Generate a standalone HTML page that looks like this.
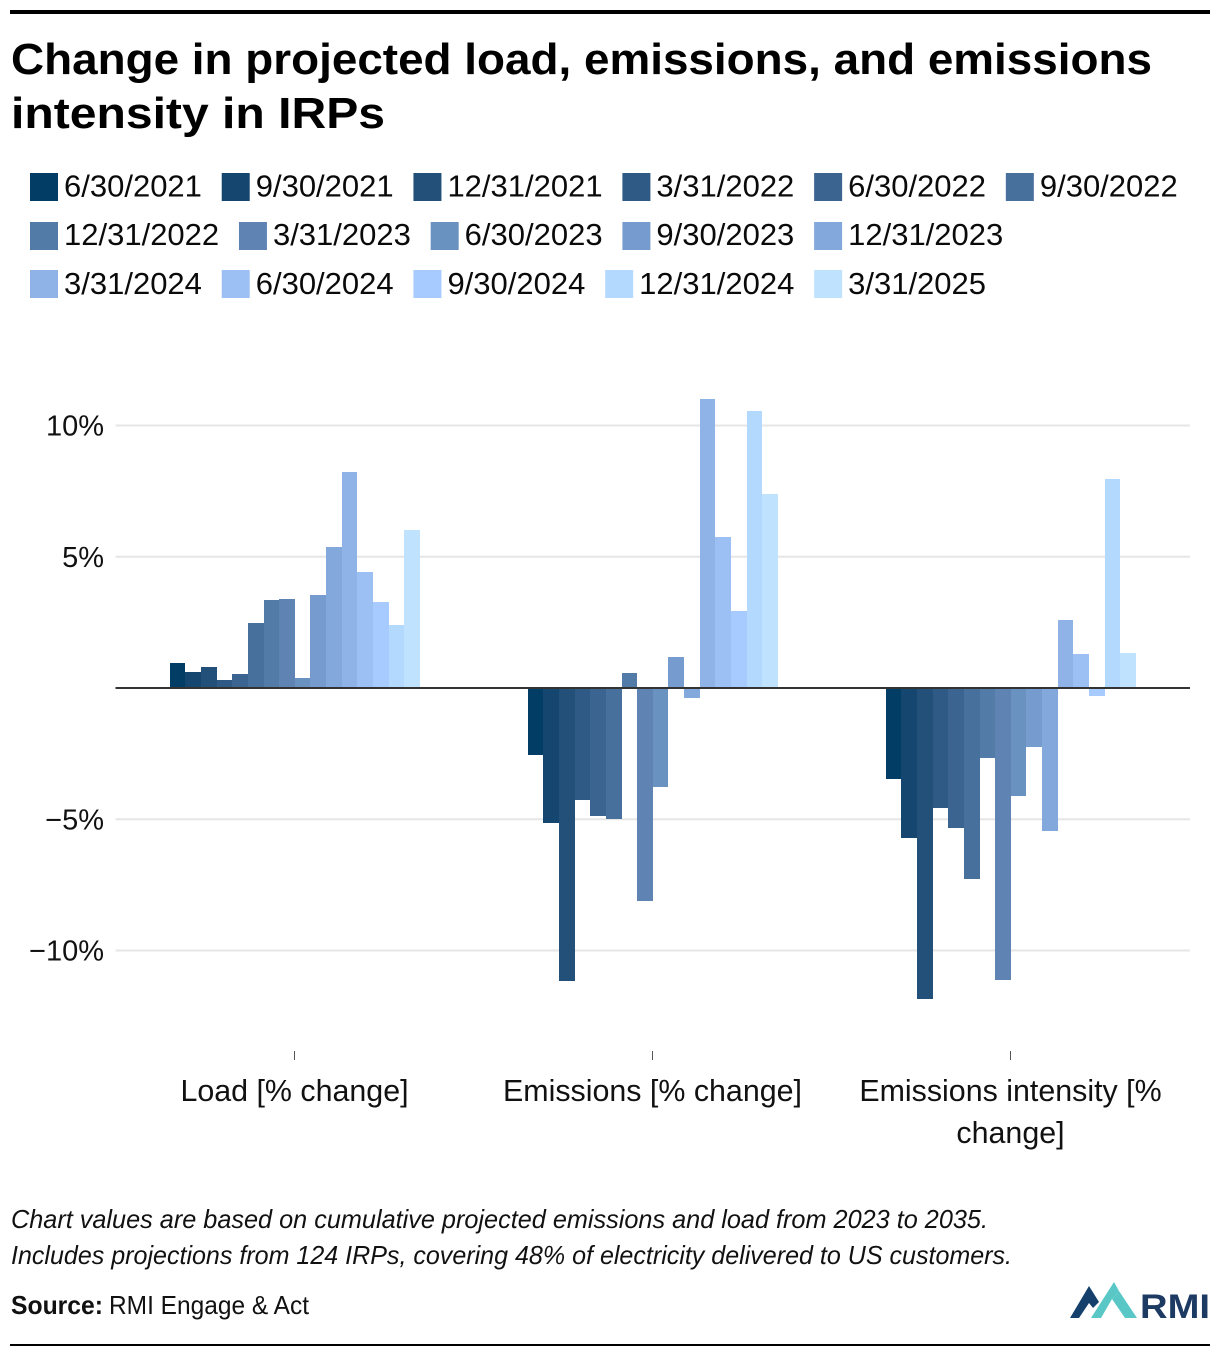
<!DOCTYPE html>
<html lang="en">
<head>
<meta charset="utf-8">
<title>Change in projected load, emissions, and emissions intensity in IRPs</title>
<style>
  html, body { margin: 0; padding: 0; background: #fff; }
  body { width: 1220px; height: 1358px; overflow: hidden; }
  svg { display: block; font-family: "Liberation Sans", sans-serif; }
  text { fill: #000; }
  .title { font-size: 44px; font-weight: 700; }
  .legend-text { font-size: 31px; fill: #0a0a0a; }
  .y-label { font-size: 29px; fill: #111; text-anchor: end; }
  .x-label { font-size: 30.4px; fill: #111; text-anchor: middle; }
  .note { font-size: 26px; font-style: italic; fill: #111; }
  .source { font-size: 26px; fill: #111; }
  .s0 { fill: #023d66; } .s1 { fill: #15466f; } .s2 { fill: #225079; } .s3 { fill: #2e5a85; }
  .s4 { fill: #3b6491; } .s5 { fill: #47709d; } .s6 { fill: #527ba7; } .s7 { fill: #5f84b3; }
  .s8 { fill: #6992c0; } .s9 { fill: #769bce; } .s10 { fill: #83a8dc; } .s11 { fill: #8fb3e7; }
  .s12 { fill: #9cc0f3; } .s13 { fill: #a8cbff; } .s14 { fill: #b3d9ff; } .s15 { fill: #bfe3ff; }
</style>
</head>
<body>
<svg id="chart" xmlns="http://www.w3.org/2000/svg" width="1220" height="1358" viewBox="0 0 1220 1358">
  <rect x="10" y="10" width="1200" height="4" fill="#000"/>
  <text class="title" x="11" y="74" textLength="1141" lengthAdjust="spacingAndGlyphs">Change in projected load, emissions, and emissions</text>
  <text class="title" x="11" y="128" textLength="374" lengthAdjust="spacingAndGlyphs">intensity in IRPs</text>
  <g id="legend"></g>
  <g id="grid"></g>
  <g id="bars"></g>
  <g id="axes"></g>
  <text class="note" x="11" y="1228" textLength="977" lengthAdjust="spacingAndGlyphs">Chart values are based on cumulative projected emissions and load from 2023 to 2035.</text>
  <text class="note" x="11" y="1264" textLength="1001" lengthAdjust="spacingAndGlyphs">Includes projections from 124 IRPs, covering 48% of electricity delivered to US customers.</text>
  <text class="source" x="11" y="1314" font-weight="700" textLength="92" lengthAdjust="spacingAndGlyphs">Source:</text>
  <text class="source" x="109" y="1314" textLength="200" lengthAdjust="spacingAndGlyphs">RMI Engage &amp; Act</text>
  <g>
    <polygon fill="#15406b" points="1070,1318 1089,1286 1099,1302 1093,1308 1089,1303 1079,1318"/>
    <polygon fill="#58c7c6" points="1091,1318 1114,1282 1119,1291 1112,1299 1101,1318"/>
    <polygon fill="#58c7c6" points="1112,1299 1119,1291 1137,1318 1125,1318"/>
    <text x="1140" y="1318" font-size="34" font-weight="700" style="fill:#1d3a63" textLength="70" lengthAdjust="spacingAndGlyphs">RMI</text>
  </g>
  <rect x="10" y="1344" width="1200" height="2" fill="#000"/>
</svg>
<script>
const categories = ["Load [% change]", "Emissions [% change]", "Emissions intensity [% change]"];
const dates = ["6/30/2021", "9/30/2021", "12/31/2021", "3/31/2022", "6/30/2022", "9/30/2022", "12/31/2022", "3/31/2023", "6/30/2023", "9/30/2023", "12/31/2023", "3/31/2024", "6/30/2024", "9/30/2024", "12/31/2024", "3/31/2025"];
const loadValues = [0.95, 0.61, 0.8, 0.3, 0.53, 2.48, 3.35, 3.39, 0.38, 3.54, 5.37, 8.23, 4.42, 3.28, 2.4, 6.02];
const emissionsValues = [-2.55, -5.14, -11.16, -4.27, -4.88, -4.99, 0.57, -8.11, -3.77, 1.18, -0.38, 11.0, 5.75, 2.93, 10.55, 7.39];
const intensityValues = [-3.48, -5.73, -11.86, -4.58, -5.35, -7.27, -2.68, -11.14, -4.13, -2.26, -5.46, 2.6, 1.29, -0.31, 7.95, 1.33];
const yTicks = [10, 5, -5, -10];

const seriesByCategory = [loadValues, emissionsValues, intensityValues];
const NS = "http://www.w3.org/2000/svg";
const plotLeft = 115.5, plotRight = 1190, zeroY = 688, pxPerUnit = 26.25;
const bandStep = 358, groupWidth = 250, wrapChars = 24;

function yScale(v) { return zeroY - v * pxPerUnit; }
function bandCenter(c) { return plotLeft + bandStep * (c + 0.5); }
function barEdge(c, i) { return Math.round(bandCenter(c) - groupWidth / 2 + 0.3 + (groupWidth / dates.length) * i); }
function make(tag, attrs, parent) {
  const el = document.createElementNS(NS, tag);
  for (const k in attrs) el.setAttribute(k, attrs[k]);
  parent.appendChild(el);
  return el;
}

const gridGroup = document.getElementById("grid");
const barsGroup = document.getElementById("bars");
const axesGroup = document.getElementById("axes");
const legendGroup = document.getElementById("legend");

// Legend: flowed left to right, wrapping at the plot's right edge
let lx = 30, ly = 173;
dates.forEach(function (d, i) {
  const t = make("text", { class: "legend-text", x: lx + 34, y: ly + 23.5 }, legendGroup);
  
  
  t.textContent = d;
  let w = t.getComputedTextLength();
  if (lx + 34 + w > plotRight) {
    lx = 30;
    ly += 48.7;
    t.setAttribute("x", lx + 34);
    t.setAttribute("y", ly + 23.5);
  }
  const sw = make("rect", { class: "s" + i, x: lx, y: Math.round(ly), width: 28, height: 28 }, legendGroup);
  
  
  lx += 34 + w + 19.8;
});

// Gridlines and y tick labels
yTicks.forEach(function (v) {
  const line = make("line", { x1: plotLeft, x2: plotRight, y1: yScale(v), y2: yScale(v), stroke: "#e6e6e6", "stroke-width": 2 }, gridGroup);
  
  
  const label = make("text", { class: "y-label", x: 104, y: yScale(v) + 10 }, axesGroup);
  
  
  label.textContent = (v < 0 ? "\u2212" : "") + Math.abs(v) + "%";
});

// Bars
categories.forEach(function (cat, c) {
  seriesByCategory[c].forEach(function (v, i) {
    const x0 = barEdge(c, i), x1 = barEdge(c, i + 1);
    const top = Math.round(yScale(Math.max(v, 0))), bottom = Math.round(yScale(Math.min(v, 0)));
    const bar = make("rect", { class: "s" + i, x: x0, y: top, width: x1 - x0, height: bottom - top, "shape-rendering": "crispEdges" }, barsGroup);
    
    
  });
});

// Zero baseline
const baseline = make("line", { x1: plotLeft, x2: plotRight, y1: zeroY, y2: zeroY, stroke: "#333", "stroke-width": 2 }, axesGroup);



// X ticks and wrapped category labels
categories.forEach(function (cat, c) {
  const cx = bandCenter(c);
  const tick = make("line", { x1: cx, x2: cx, y1: 1051, y2: 1060, stroke: "#555", "stroke-width": 1 }, axesGroup);
  
  
  const lines = [];
  let current = "";
  cat.split(" ").forEach(function (word) {
    const candidate = current ? current + " " + word : word;
    if (candidate.length > wrapChars) { lines.push(current); current = word; }
    else { current = candidate; }
  });
  lines.push(current);
  lines.forEach(function (ln, n) {
    const label = make("text", { class: "x-label", x: cx, y: 1101 + n * 42 }, axesGroup);
    
    
    label.textContent = ln;
  });
});
</script>
</body>
</html>
